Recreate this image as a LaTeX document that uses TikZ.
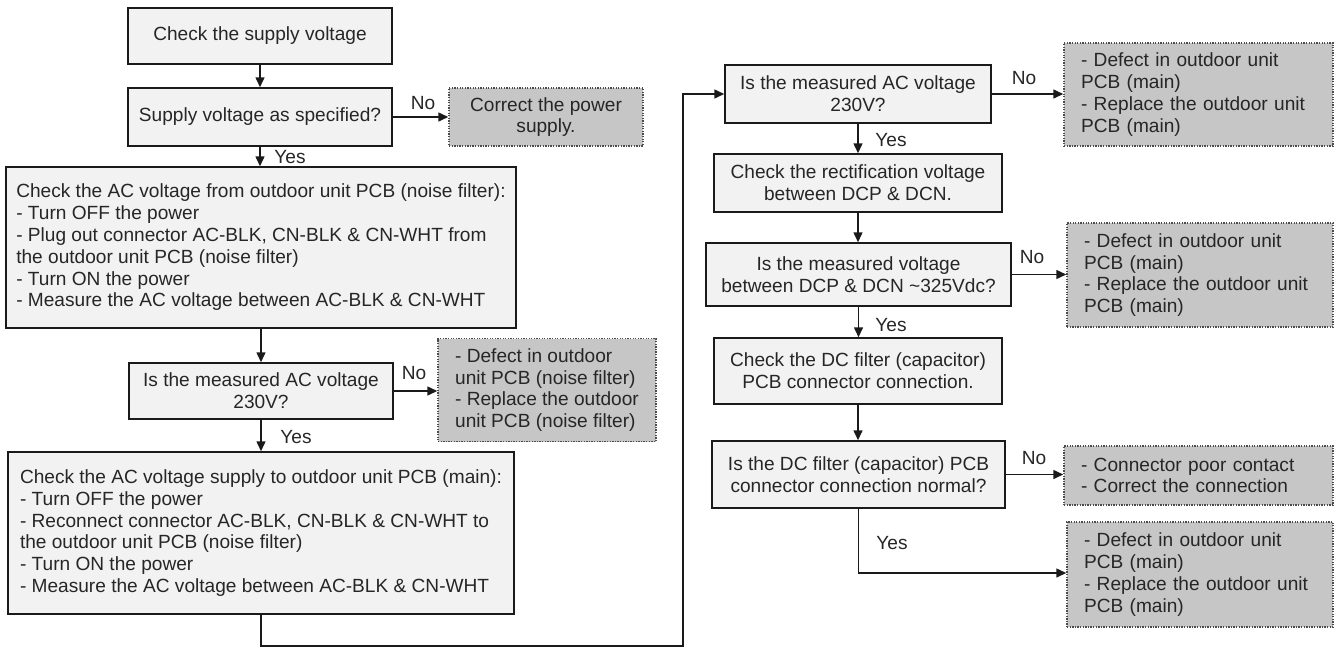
\documentclass[tikz,border=0pt]{standalone}
\usepackage{fontspec}
\setmainfont{Liberation Sans}
\usetikzlibrary{arrows.meta}
\definecolor{boxfill}{HTML}{F2F2F2}
\definecolor{gfill}{HTML}{C6C6C6}
\definecolor{lin}{HTML}{1A1A1A}
\begin{document}
\begin{tikzpicture}[x=1pt,y=-1pt,
  every node/.style={font=\fontsize{19.1}{21.8}\selectfont, text=black!85},
  box/.style={draw=lin, line width=1.5pt, fill=boxfill, inner sep=0pt, align=center},
  gbox/.style={draw=black!70, line width=1.5pt, dash pattern=on 1.3pt off 1.3pt, fill=gfill, inner sep=0pt},
  arr/.style={draw=lin, line width=1.5pt, -{Triangle[length=10pt,width=9pt]}},
  lab/.style={inner sep=0pt}]
\useasboundingbox (0,0) rectangle (1336,648);
% left column
\node[box, minimum width=264, minimum height=56] (b1) at (260,36) {Check the supply voltage};
\node[box, minimum width=264, minimum height=58] (b2) at (260,117) {Supply voltage as specified?};
\node[gbox, minimum width=194, minimum height=58, align=center] (g1) at (546,117) {Correct the power\\supply.};
\node[box, minimum width=510, minimum height=161, align=left] (b3) at (261,247.5) {Check the AC voltage from outdoor unit PCB (noise filter):\\- Turn OFF the power\\- Plug out connector AC-BLK, CN-BLK \& CN-WHT from\\the outdoor unit PCB (noise filter)\\- Turn ON the power\\- Measure the AC voltage between AC-BLK \& CN-WHT};
\node[box, minimum width=264, minimum height=56] (b4) at (261,391) {Is the measured AC voltage\\230V?};
\node[gbox, minimum width=218, minimum height=103, align=left] (g2) at (547,390) {- Defect in outdoor\\unit PCB (noise filter)\\- Replace the outdoor\\unit PCB (noise filter)};
\node[box, minimum width=506, minimum height=162, align=left] (b5) at (261,533) {Check the AC voltage supply to outdoor unit PCB (main):\\- Turn OFF the power\\- Reconnect connector AC-BLK, CN-BLK \& CN-WHT to\\the outdoor unit PCB (noise filter)\\- Turn ON the power\\- Measure the AC voltage between AC-BLK \& CN-WHT};
% right column
\node[box, minimum width=266, minimum height=58] (b6) at (858,94) {Is the measured AC voltage\\230V?};
\node[gbox, minimum width=269, minimum height=103, text width=235, align=left] (g3) at (1198.5,94.5) {- Defect in outdoor unit\\PCB (main)\\- Replace the outdoor unit\\PCB (main)};
\node[box, minimum width=288, minimum height=58] (b7) at (858,183) {Check the rectification voltage\\between DCP \& DCN.};
\node[box, minimum width=305, minimum height=63] (b8) at (858.5,274.5) {Is the measured voltage\\between DCP \& DCN \textasciitilde325Vdc?};
\node[gbox, minimum width=266, minimum height=104, text width=232, align=left] (g4) at (1200,275) {- Defect in outdoor unit\\PCB (main)\\- Replace the outdoor unit\\PCB (main)};
\node[box, minimum width=288, minimum height=66] (b9) at (858,371) {Check the DC filter (capacitor)\\PCB connector connection.};
\node[box, minimum width=293, minimum height=67] (b10) at (858.5,474.5) {Is the DC filter (capacitor) PCB\\connector connection normal?};
\node[gbox, minimum width=269, minimum height=59, text width=235, align=left] (g5) at (1198.5,475.5) {- Connector poor contact\\- Correct the connection};
\node[gbox, minimum width=266, minimum height=105, text width=232, align=left] (g6) at (1200,574.5) {- Defect in outdoor unit\\PCB (main)\\- Replace the outdoor unit\\PCB (main)};
% connectors
\draw[arr] (b1) -- (b2);
\draw[arr] (b2) -- (g1);
\draw[arr] (b2.south) -- (b2.south |- b3.north);
\draw[arr] (b4.north |- b3.south) -- (b4.north);
\draw[arr] (b4) -- (b4 -| g2.west);
\draw[arr] (b4.south) -- (b4.south |- b5.north);
\coordinate (c1) at (683,646);
\draw[arr] (b5.south) |- (c1) |- (b6.west);
\draw[arr] (b6) -- (b6 -| g3.west);
\draw[arr] (b6.south) -- (b6.south |- b7.north);
\draw[arr] (b7) -- (b7.south |- b8.north);
\draw[arr] (b8) -- (b8 -| g4.west);
\draw[arr] (b8.south) -- (b8.south |- b9.north);
\draw[arr] (b9) -- (b9.south |- b10.north);
\draw[arr] (b10) -- (b10 -| g5.west);
\coordinate (c2) at (858.5,573);
\draw[arr] (b10.south) -- (c2) -- (c2 -| g6.west);
% labels
\node[lab] (n1) at (423,103) {No};
\node[lab] (y1) at (290,157) {Yes};
\node[lab] (n2) at (414,373) {No};
\node[lab] (y2) at (296,437) {Yes};
\node[lab] (n3) at (1024,78) {No};
\node[lab] (y3) at (891,140) {Yes};
\node[lab] (n4) at (1032,257) {No};
\node[lab] (y4) at (891,325) {Yes};
\node[lab] (n5) at (1034,458) {No};
\node[lab] (y5) at (892,543) {Yes};
\end{tikzpicture}
\end{document}
